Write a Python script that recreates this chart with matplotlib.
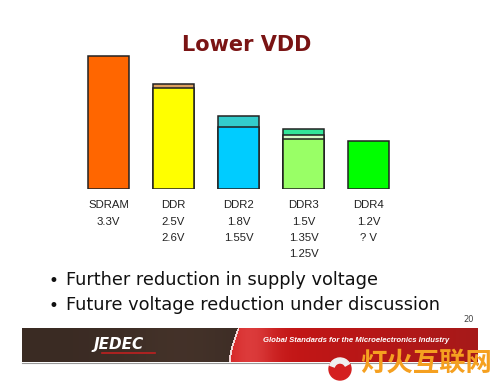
import numpy as np
import matplotlib
matplotlib.use("Agg")
import matplotlib.pyplot as plt
from matplotlib.patches import Circle, Wedge

# --- data ---
generations = ["SDRAM", "DDR", "DDR2", "DDR3", "DDR4"]
levels = [[3.3], [2.6, 2.5], [1.8, 1.55], [1.5, 1.35, 1.25], [1.2]]
level_colors = [
    ["#FF6600"],
    ["#DDA060", "#FFFF00"],
    ["#33CCCC", "#00CCFF"],
    ["#33E699", "#D6FFC8", "#99FF66"],
    ["#00FF00"],
]
voltage_labels = [
    ["3.3V"],
    ["2.5V", "2.6V"],
    ["1.8V", "1.55V"],
    ["1.5V", "1.35V", "1.25V"],
    ["1.2V", "? V"],
]
bullets = [
    "Further reduction in supply voltage",
    "Future voltage reduction under discussion",
]

W, H = 500, 385
fig = plt.figure(figsize=(W / 100, H / 100), dpi=100)
fig.patch.set_facecolor("white")

# bar axes (pixel-aligned)
ax = fig.add_axes([76 / W, 1 - 189 / H, 325 / W, 141 / H])
ax.set_xlim(-0.5, 4.5)
ax.set_ylim(0, 3.5)
ax.axis("off")

for i, (lv, cols) in enumerate(zip(levels, level_colors)):
    for v, c in zip(lv, cols):
        ax.bar(i, v, width=0.63, color=c, edgecolor="#222222", linewidth=1.1, zorder=2)

    ax.annotate(generations[i], xy=(i, 0), xytext=(0, -11.5), textcoords="offset points",
                ha="center", va="center", fontsize=8.2, family="Liberation Sans",
                color="#222222", annotation_clip=False)
    for k, lab in enumerate(voltage_labels[i]):
        ax.annotate(lab, xy=(i, 0), xytext=(0, -23.5 - 11.7 * k), textcoords="offset points",
                    ha="center", va="center", fontsize=8.2, family="Liberation Sans",
                    color="#222222", annotation_clip=False)

# overlay in pixel coords for slide decoration
ov = fig.add_axes([0, 0, 1, 1], zorder=-1)
ov.set_xlim(0, W)
ov.set_ylim(H, 0)
ov.axis("off")

ov.text(247, 45, "Lower VDD", ha="center", va="center", fontsize=15,
        fontweight="bold", color="#7A1414", family="DejaVu Sans")

for k, b in enumerate(bullets):
    y = 280 + 25 * k
    ov.text(53, y + 1, "•", ha="center", va="center", fontsize=12, color="#111111")
    ov.text(66, y, b, ha="left", va="center", fontsize=12.8, color="#111111",
            family="DejaVu Sans")

ov.text(469, 320, "20", ha="center", va="center", fontsize=6, color="#444444")

# footer banner
bx0, bx1, by0, by1 = 22, 478, 328, 362
nx, ny = bx1 - bx0, by1 - by0
xx, yy = np.meshgrid(np.arange(nx) + bx0, np.arange(ny) + by0)
t = (yy - by0) / ny
edge = 229 + 9 * (1 - t) ** 1.5
img = np.zeros((ny, nx, 3))
brown = np.array([0.23, 0.17, 0.14])
img[:] = brown * (1 + 0.15 * np.exp(-((xx - 180) / 60.0) ** 2))[..., None]
red_mask = xx > edge
s = np.clip((xx - 230) / 250.0, 0, 1)
red = np.stack([0.80 - 0.15 * s, 0.08 + 0.02 * s, 0.08 + 0.02 * s], axis=-1)
glow = np.exp(-((xx - 250) / 25.0) ** 2)[..., None] * 0.25
red = np.clip(red + glow * np.array([0.3, 0.6, 0.6]), 0, 1)
img[red_mask] = red[red_mask]
line_mask = np.abs(xx - edge) < 1.0
img[line_mask] = [0.95, 0.85, 0.85]
ov.imshow(img, extent=(bx0, bx1, by1, by0), aspect="auto", zorder=1, interpolation="bilinear")
ov.plot([bx0, bx1], [by1 + 0.5, by1 + 0.5], color="#999999", lw=0.8, zorder=2)

ov.text(119, 345, "JEDEC", ha="center", va="center", fontsize=11, fontweight="bold",
        style="italic", color="white", family="DejaVu Sans", zorder=3)
ov.plot([102, 155], [353, 353], color="#C02020", lw=1.2, zorder=3)
ov.text(356, 341, "Global Standards for the Microelectronics Industry", ha="center",
        va="center", fontsize=5.6, fontweight="bold", style="italic", color="white",
        family="Liberation Sans", zorder=3)

# watermark
ov.add_patch(Circle((340, 369), 11, color="#D42020", zorder=4))
ov.add_patch(Wedge((340, 369), 11, 200, 330, width=5, color="#F0F0F0", zorder=5))
ov.text(426, 363, "灯火互联网", ha="center", va="center", fontsize=19, fontweight="bold",
        color="#F5A020", family="Noto Sans CJK SC", zorder=4)

fig.savefig("out.png", dpi=100)
